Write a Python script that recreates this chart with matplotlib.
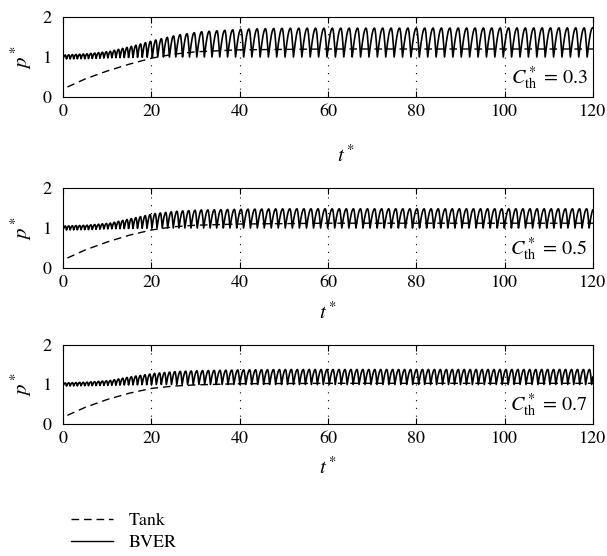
import numpy as np
import matplotlib
matplotlib.use("Agg")
import matplotlib.pyplot as plt
from matplotlib.lines import Line2D

plt.rcParams['font.family'] = ['STIXGeneral', 'DejaVu Serif']
plt.rcParams['mathtext.fontset'] = 'stix'

# ---- data ----
cth_values = [0.3, 0.5, 0.7]
x_ticks = [0, 20, 40, 60, 80, 100, 120]
y_ticks = [0, 1, 2]

# Tank (dashed) curves
t_tank = [1, 5, 10, 15, 20, 25, 30, 40, 60, 120]
p_tank_03 = [0.25, 0.45, 0.65, 0.82, 0.97, 1.07, 1.13, 1.18, 1.20, 1.20]
p_tank_05 = [0.25, 0.45, 0.65, 0.82, 0.95, 1.03, 1.07, 1.10, 1.12, 1.12]
p_tank_07 = [0.22, 0.42, 0.62, 0.78, 0.90, 0.96, 0.99, 1.02, 1.03, 1.03]

# BVER oscillation envelopes (peak / trough / period)
t_env = [0, 5, 10, 15, 20, 25, 30, 40, 50, 120]
peak_03 = [1.05, 1.08, 1.14, 1.27, 1.42, 1.55, 1.63, 1.70, 1.72, 1.73]
trough_03 = [0.95, 0.96, 0.98, 0.99, 1.00, 1.00, 1.00, 1.00, 1.00, 1.00]
period_03 = [0.80, 0.85, 0.90, 1.00, 1.20, 1.50, 1.70, 1.85, 1.90, 1.90]

peak_05 = [1.05, 1.07, 1.12, 1.24, 1.36, 1.42, 1.45, 1.47, 1.48, 1.48]
trough_05 = [0.95, 0.96, 0.98, 0.99, 1.00, 1.00, 1.00, 1.00, 1.00, 1.00]
period_05 = [0.80, 0.85, 0.90, 1.00, 1.15, 1.30, 1.45, 1.55, 1.60, 1.60]

peak_07 = [1.04, 1.06, 1.10, 1.20, 1.28, 1.33, 1.35, 1.37, 1.38, 1.38]
trough_07 = [0.96, 0.97, 0.98, 0.99, 1.00, 1.00, 1.00, 1.00, 1.00, 1.00]
period_07 = [0.80, 0.85, 0.90, 1.00, 1.10, 1.20, 1.30, 1.35, 1.35, 1.35]

panels = [
    (0.3, p_tank_03, peak_03, trough_03, period_03),
    (0.5, p_tank_05, peak_05, trough_05, period_05),
    (0.7, p_tank_07, peak_07, trough_07, period_07),
]


def bver_curve(peak, trough, period, t_end=120.0):
    ts, ps = [], []
    t = 0.0
    while t < t_end:
        P = np.interp(t, t_env, period)
        hi = np.interp(t, t_env, peak)
        lo = np.interp(t, t_env, trough)
        s = np.linspace(0, 1, 10)
        tr = t + 0.65 * P * s
        pr = lo + (hi - lo) * np.sin(s * np.pi / 2)
        s2 = np.linspace(0, 1, 8)[1:]
        tf = t + 0.65 * P + 0.35 * P * s2
        pf = hi - (hi - lo) * (1 - np.cos(s2 * np.pi / 2))
        ts.extend(tr.tolist() + tf.tolist())
        ps.extend(pr.tolist() + pf.tolist())
        t += P
    ts = np.array(ts)
    ps = np.array(ps)
    m = ts <= t_end
    return ts[m], ps[m]


W, H = 607, 556
fig = plt.figure(figsize=(W / 100, H / 100), dpi=100)

left, right = 63, 593
boxes = [(17, 97), (188, 268), (345, 424)]
xlabel_y = [-0.60, -0.425, -0.42]
xlabel_x = [0.535, 0.5, 0.5]

for i, ((top, bot), (cth, p_tank, pk, tr, pr)) in enumerate(zip(boxes, panels)):
    ax = fig.add_axes([left / W, 1 - bot / H, (right - left) / W, (bot - top) / H])
    ts, ps = bver_curve(pk, tr, pr)
    ax.plot(ts, ps, color='black', lw=1.2)
    ax.plot(t_tank, p_tank, color='black', lw=1.0, linestyle=(0, (5.5, 3.5)))
    ax.set_xlim(0, 120)
    ax.set_ylim(0, 2)
    ax.set_xticks(x_ticks)
    ax.set_yticks(y_ticks)
    for xv in x_ticks[1:-1]:
        ax.axvline(xv, color='black', lw=0.8, linestyle=(0, (1, 6)), zorder=0)
    ax.tick_params(axis='x', direction='in', top=True, length=4, width=0.8,
                   labelsize=13, pad=5)
    ax.tick_params(axis='y', length=0, labelsize=13, pad=8)
    for sp in ax.spines.values():
        sp.set_linewidth(0.8)
    ax.set_ylabel(r'$p^*$', fontsize=15, labelpad=6)
    ax.set_xlabel(r'$t^*$', fontsize=15)
    ax.xaxis.set_label_coords(xlabel_x[i], xlabel_y[i])
    ax.text(0.99, 0.24, r'$C^*_{\mathrm{th}}$ = ' + f'{cth}', transform=ax.transAxes,
            ha='right', va='center', fontsize=14.5)

handles = [Line2D([], [], color='black', lw=1.0, linestyle=(0, (5.5, 3.5))),
           Line2D([], [], color='black', lw=1.0)]
fig.legend(handles, ['Tank', 'BVER'], loc='upper left',
           bbox_to_anchor=(55 / W, 1 - 496 / H), frameon=False,
           fontsize=13, handlelength=2.3, handletextpad=0.9, labelspacing=0.3)

fig.savefig('out.png', dpi=100)
